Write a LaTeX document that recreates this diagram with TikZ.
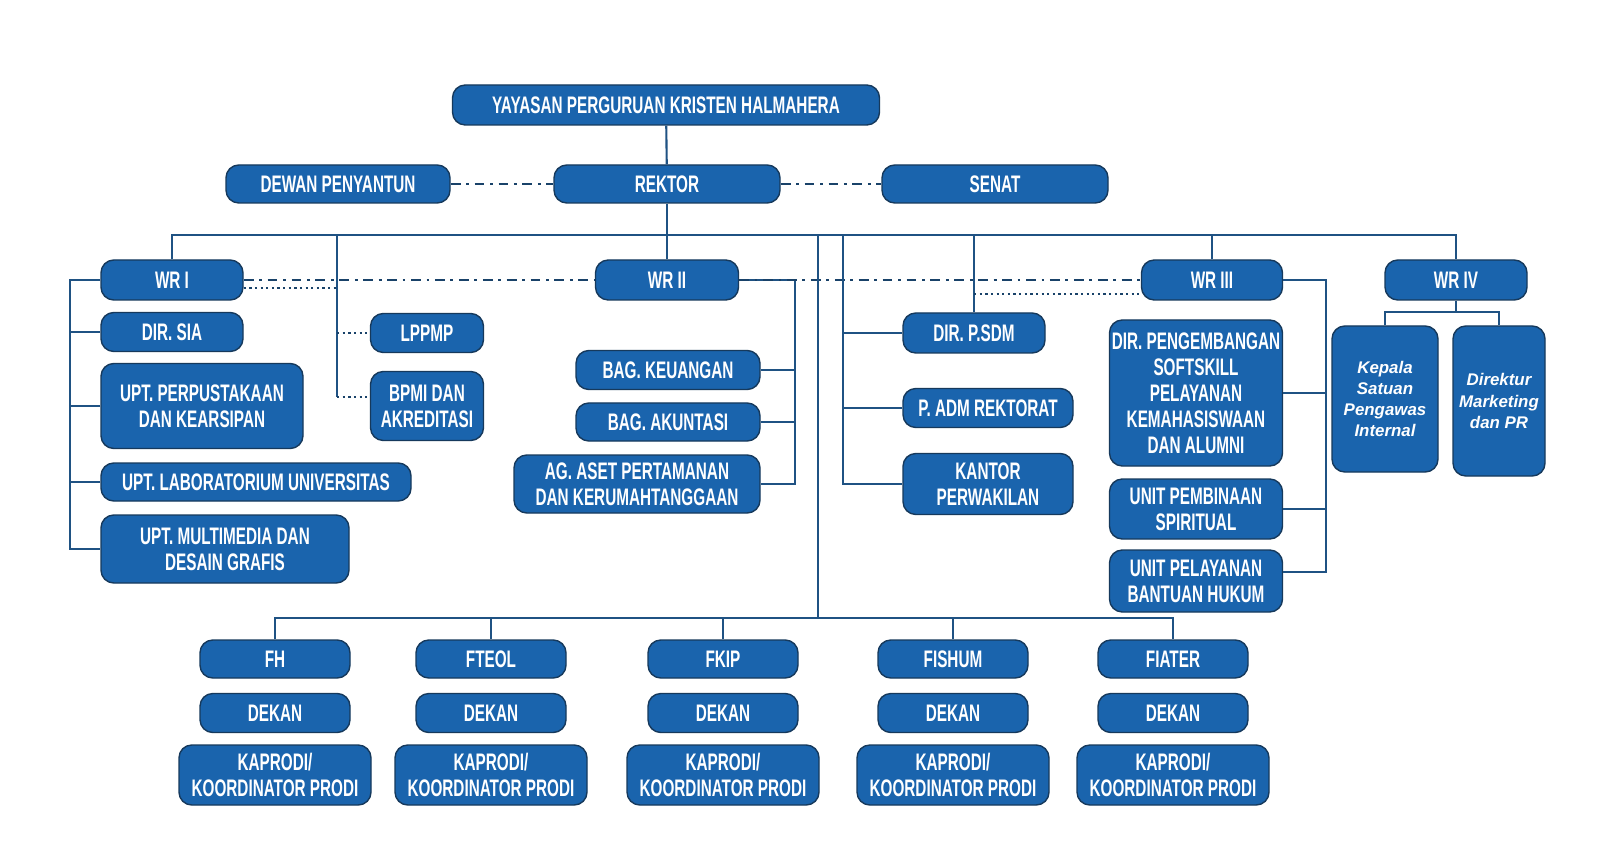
\documentclass[tikz,border=0pt]{standalone}
\usepackage{fontspec}
\setmainfont{Liberation Sans}[FakeStretch=0.64]
\newfontfamily\itfont{Liberation Sans}
\usetikzlibrary{positioning}
\definecolor{boxblue}{HTML}{1A64AD}
\definecolor{lineblue}{HTML}{1F5283}
\tikzset{
  unit/.style={draw=lineblue!70!black,line width=1pt,fill=boxblue,text=white,rounded corners=0.32cm,
    align=center,inner sep=1pt,font=\bfseries\fontsize{17}{18.5}\selectfont},
  link/.style={draw=lineblue,line width=1.5pt},
  dashdot/.style={draw=lineblue!80!black,line width=1.5pt,dash pattern=on 7pt off 4pt on 2pt off 4pt},
  dots/.style={draw=lineblue!80!black,line width=1.8pt,dash pattern=on 1.6pt off 2.4pt}
}
\newcommand{\unitat}[6]{\node[unit,minimum width=#4*0.025cm,minimum height=#5*0.025cm] (#1) at (#2,#3) {#6};}
\begin{document}
\begin{tikzpicture}[x=0.025cm,y=-0.025cm]
\fill[white] (0,0) rectangle (1600,846);
\useasboundingbox (0,0) rectangle (1600,846);
% top
\unitat{yay}{666}{105}{427}{40}{YAYASAN PERGURUAN KRISTEN HALMAHERA}
\unitat{dewan}{338}{184}{224}{38}{DEWAN PENYANTUN}
\unitat{rektor}{667}{184}{226}{38}{REKTOR}
\unitat{senat}{995}{184}{226}{38}{SENAT}
% wakil rektor
\unitat{wra}{172}{280}{142}{40}{WR I}
\unitat{wrb}{667}{280}{143}{40}{WR II}
\unitat{wrc}{1212}{280}{141}{40}{WR III}
\unitat{wrd}{1456}{280}{142}{40}{WR IV}
% WR I
\unitat{sia}{172}{332}{142}{39}{DIR. SIA}
\unitat{perpus}{202}{406}{202}{85}{UPT. PERPUSTAKAAN\\DAN KEARSIPAN}
\unitat{lab}{256}{482}{310}{38}{UPT. LABORATORIUM UNIVERSITAS}
\unitat{mm}{225}{549}{248}{68}{UPT. MULTIMEDIA DAN\\DESAIN GRAFIS}
\unitat{lppmp}{427}{333}{113}{39}{LPPMP}
\unitat{bpmi}{427}{406}{113}{69}{BPMI DAN\\AKREDITASI}
% WR II
\unitat{keu}{668}{370}{184}{39}{BAG. KEUANGAN}
\unitat{aku}{668}{422}{184}{38}{BAG. AKUNTASI}
\unitat{aset}{637}{484}{246}{58}{AG. ASET PERTAMANAN\\DAN KERUMAHTANGGAAN}
% rektor staff
\unitat{psdm}{974}{333}{142}{40}{DIR. P.SDM}
\unitat{padm}{988}{408}{170}{39}{P. ADM REKTORAT}
\unitat{kantor}{988}{484}{170}{61}{KANTOR\\PERWAKILAN}
% WR III
\unitat{peng}{1196}{393}{173}{146}{DIR. PENGEMBANGAN\\SOFTSKILL\\PELAYANAN\\KEMAHASISWAAN\\DAN ALUMNI}
\unitat{spirit}{1196}{509}{173}{60}{UNIT PEMBINAAN\\SPIRITUAL}
\unitat{hukum}{1196}{581}{173}{62}{UNIT PELAYANAN\\BANTUAN HUKUM}
% WR IV
\node[unit,minimum width=106*0.025cm,minimum height=146*0.025cm,font=\itfont\bfseries\itshape\fontsize{12}{15}\selectfont] (spi) at (1385,399) {Kepala\\Satuan\\Pengawas\\Internal};
\node[unit,minimum width=92*0.025cm,minimum height=150*0.025cm,font=\itfont\bfseries\itshape\fontsize{12}{15}\selectfont] (mkt) at (1499,401) {Direktur\\Marketing\\dan PR};
% faculties
\foreach \nm/\cx in {FH/275,FTEOL/491,FKIP/723,FISHUM/953,FIATER/1173}{
  \unitat{f\nm}{\cx}{659}{150}{38}{\nm}
  \unitat{d\nm}{\cx}{713}{150}{39}{DEKAN}
  \unitat{k\nm}{\cx}{775}{192}{60}{KAPRODI/\\KOORDINATOR PRODI}
}
% lines
\draw[link] (yay) -- (rektor);
\draw[dashdot] (dewan) -- (rektor);
\draw[dashdot] (rektor) -- (senat);
\draw[link] (rektor.south) -- (667,235);
\draw[link] (wra.north) |- (wrd.north |- 0,235) -- (wrd.north);
\draw[link] (wrb.north) -- (667,235);
\draw[link] (wrc.north) -- (1212,235);
\draw[link] (psdm.north) -- (974,235);
% WR I branch
\draw[link] (wra.west) -| (70,549) -- (mm.west);
\foreach \u in {sia,perpus,lab}{\draw[link] (\u.west) -- (70,0 |- \u.west);}
\draw[link] (337,235) -- (337,397);
\draw[dots] (337,333) -- (lppmp.west);
\draw[dots] (337,397) -- (bpmi.west |- 0,397);
\draw[dots] (wra.east |- 0,288) -- (337,288);
% WR II branch
\draw[link] (wrb.east) -| (795,484) -- (aset.east);
\foreach \u in {keu,aku}{\draw[link] (\u.east) -- (795,0 |- \u.east);}
\draw[dashdot] (wra.east) -- (wrb.west);
\draw[dashdot] (wrb.east) -- (wrc.west);
\draw[dots] (974,294) -- (wrc.west |- 0,294);
% staff branch
\draw[link] (843,235) -- (843,484) -- (kantor.west);
\foreach \u in {psdm,padm}{\draw[link] (\u.west) -- (843,0 |- \u.west);}
% WR III branch
\draw[link] (wrc.east) -| (1326,572) -- (hukum.east |- 0,572);
\foreach \u in {peng,spirit}{\draw[link] (\u.east) -- (1326,0 |- \u.east);}
% WR IV branch
\draw[link] (wrd.south) -- (1456,312);
\draw[link] (spi.north) |- (1456,312) -| (mkt.north);
% faculty trunk
\draw[link] (818,235) -- (818,618);
\draw[link] (fFH.north) |- (818,618) -| (fFIATER.north);
\foreach \nm in {FTEOL,FKIP,FISHUM}{\draw[link] (f\nm.north) -- (f\nm.north |- 0,618);}
\end{tikzpicture}
\end{document}
